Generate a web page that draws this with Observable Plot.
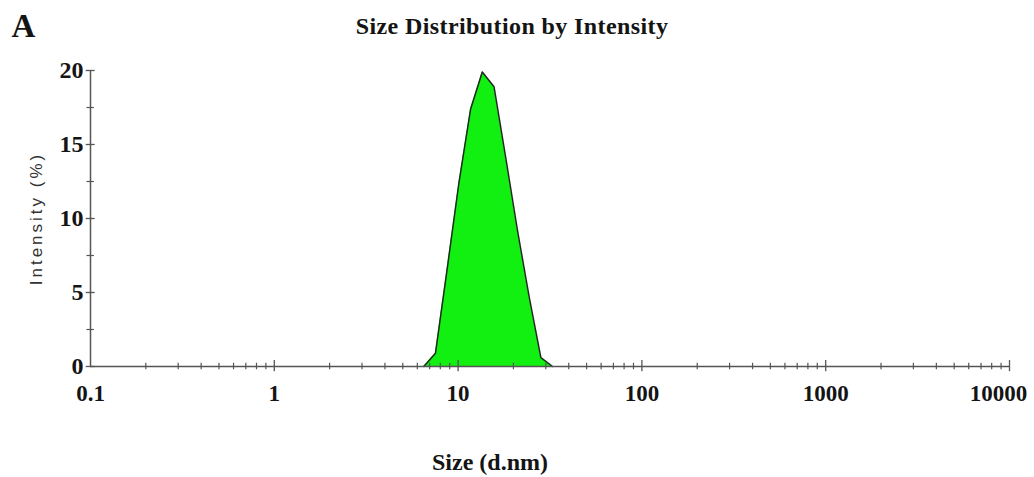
<!DOCTYPE html>
<html>
<head>
<meta charset="utf-8">
<script src="https://cdn.jsdelivr.net/npm/d3@7"></script>
<script src="https://cdn.jsdelivr.net/npm/@observablehq/plot@0.6"></script>
<style>
  html, body { margin: 0; padding: 0; background: #fff; }
  #chart { width: 1034px; height: 477px; }
</style>
</head>
<body>
<div id="chart"></div>
<script>
// Data
const sizes = [6.503, 7.531, 8.721, 10.10, 11.70, 13.54, 15.69, 18.17, 21.04, 24.36, 28.21, 32.67];
const intensities = [0, 0.9, 6.6, 12.4, 17.4, 19.9, 18.9, 14.1, 9.2, 4.7, 0.6, 0];

const xTickValues = [0.1, 1, 10, 100, 1000, 10000];
const xTickLabels = ["0.1", "1", "10", "100", "1000", "10000"];
const yTickValues = [0, 5, 10, 15, 20];
const yTickLabels = ["0", "5", "10", "15", "20"];
const yMinorTicks = [2.5, 7.5, 12.5, 17.5];
const xMinorMultipliers = [2, 3, 4, 5, 6, 7, 8, 9];

const title = "Size Distribution by Intensity";
const panelLabel = "A";
const xLabel = "Size (d.nm)";
const yLabel = "Intensity (%)";

const data = sizes.map((s, i) => ({size: s, intensity: intensities[i]}));
const xMinor = [];
for (const d of xTickValues.slice(0, -1)) for (const m of xMinorMultipliers) xMinor.push(d * m);
const xLabelData = xTickValues.map((v, i) => ({v, label: xTickLabels[i]}));

const axisColor = "#555";
const serif = "Liberation Serif";
const ink = "#141414";

const chart = Plot.plot({
  width: 1034,
  height: 477,
  marginLeft: 90,
  marginRight: 25,
  marginTop: 70,
  marginBottom: 111,
  style: {fontFamily: serif, fontWeight: "bold", fontSize: "24px", color: ink, background: "#fff", overflow: "visible"},
  x: {type: "log", domain: [0.1, 10000], axis: null},
  y: {domain: [0, 20], ticks: yTickValues, tickFormat: d => yTickLabels[yTickValues.indexOf(d)], tickSize: 0, tickPadding: 7, label: null},
  marks: [
    Plot.areaY(data, {x: "size", y: "intensity", fill: "#12f012"}),
    Plot.lineY(data, {x: "size", y: "intensity", stroke: "#1f2a1f", strokeWidth: 1.5}),
    // axis lines
    Plot.ruleY([0], {stroke: axisColor, strokeWidth: 1.5}),
    Plot.ruleX([0.1], {y1: 0, y2: 20, stroke: axisColor, strokeWidth: 1.5}),
    // x ticks
    Plot.ruleX(xMinor, {x: d => d, y1: -0.22, y2: 0.22, stroke: axisColor, strokeWidth: 1.2}),
    Plot.ruleX(xTickValues.slice(1), {x: d => d, y1: -0.35, y2: 0.4, stroke: axisColor, strokeWidth: 1.3}),
    // y ticks
    Plot.ruleY(yTickValues, {y: d => d, x1: 0.1 / 1.055, x2: 0.1 * 1.06, stroke: axisColor, strokeWidth: 1.3}),
    Plot.ruleY(yMinorTicks, {y: d => d, x1: 0.1 / 1.045, x2: 0.1 * 1.05, stroke: axisColor, strokeWidth: 1.2}),
    // x tick labels
    Plot.text(xLabelData.slice(0, -1), {x: "v", frameAnchor: "bottom", lineAnchor: "middle", dy: 27, text: "label", fontFamily: serif, fontWeight: "bold", fontSize: 23, fill: ink}),
    Plot.text(xLabelData.slice(-1), {x: "v", frameAnchor: "bottom", lineAnchor: "middle", dy: 27, dx: -11, text: "label", fontFamily: serif, fontWeight: "bold", fontSize: 23, fill: ink}),
    // titles
    Plot.text([title], {frameAnchor: "top", lineAnchor: "middle", dx: -38, dy: -44, text: d => d, fontFamily: serif, fontWeight: "bold", fontSize: 24, fill: ink}),
    Plot.text([panelLabel], {frameAnchor: "top-left", lineAnchor: "middle", dx: -67, dy: -44, text: d => d, textAnchor: "middle", fontFamily: serif, fontWeight: "bold", fontSize: 33, fill: ink}),
    Plot.text([xLabel], {frameAnchor: "bottom", lineAnchor: "middle", dx: -60, dy: 96, text: d => d, fontFamily: serif, fontWeight: "bold", fontSize: 24, fill: ink}),
    Plot.text([yLabel], {frameAnchor: "left", lineAnchor: "middle", dx: -54, dy: 0, rotate: -90, text: d => d, fontFamily: "Liberation Sans", fontWeight: "normal", fontSize: 17, fill: "#333", textAnchor: "middle"})
  ]
});
// widen the lettering as in the reference
d3.select(chart).selectAll("text").each(function () {
  const t = this.textContent;
  if (t === yLabel) this.setAttribute("letter-spacing", "3px");
  else if (t === title) this.setAttribute("letter-spacing", "0.4px");
});
document.getElementById("chart").appendChild(chart);
</script>
</body>
</html>
